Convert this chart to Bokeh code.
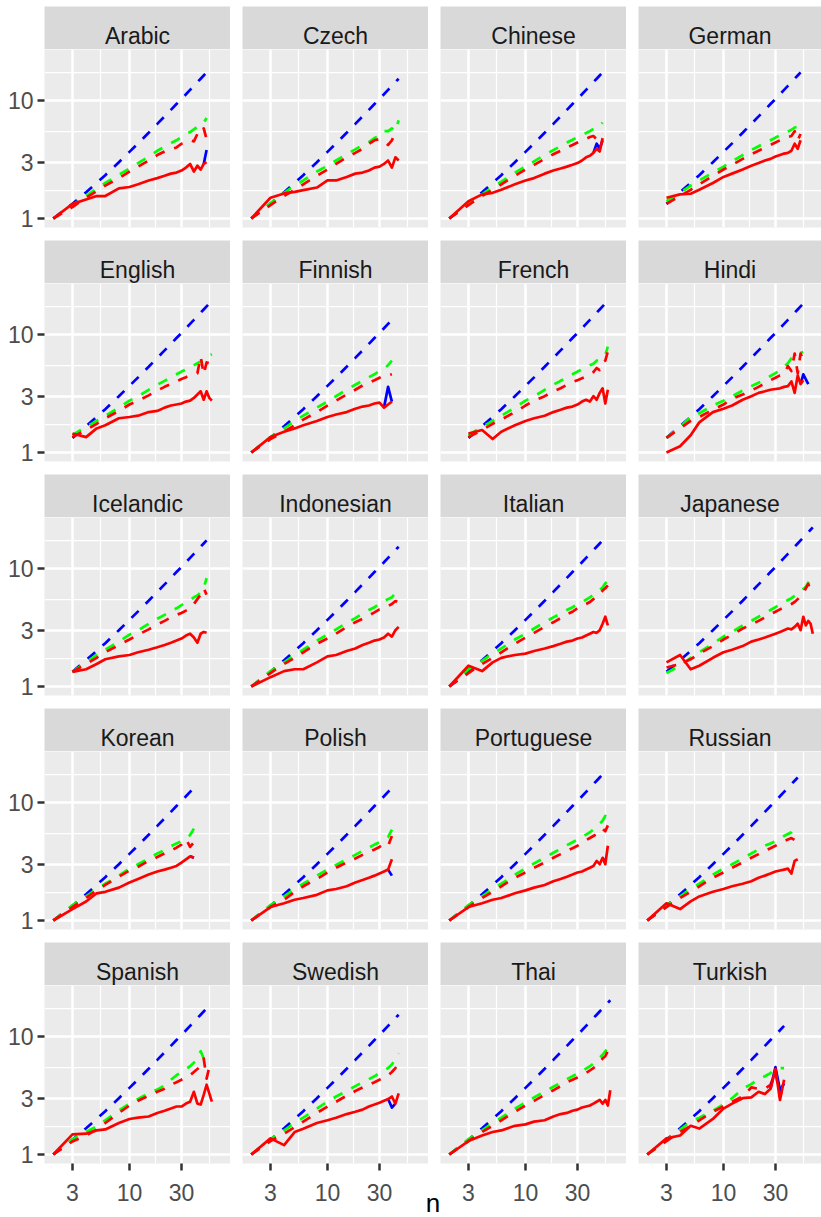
import numpy as np
from bokeh.plotting import figure
from bokeh.layouts import column, row
from bokeh.models import Range1d, FixedTicker, LogScale
from bokeh.core.properties import value
from bokeh.embed import file_html
from bokeh.resources import INLINE

LANGS = ["Arabic", "Czech", "Chinese", "German",
         "English", "Finnish", "French", "Hindi",
         "Icelandic", "Indonesian", "Italian", "Japanese",
         "Korean", "Polish", "Portuguese", "Russian",
         "Spanish", "Swedish", "Thai", "Turkish"]

N_GRID = [2, 3, 4, 5, 6, 8, 10, 12, 15, 18, 21, 24, 27, 30, 33, 36, 39, 42, 45,
          48, 51, 54, 57, 60, 63, 66]

START = {"Arabic": 2, "Czech": 2, "Chinese": 2, "German": 3, "English": 3,
         "Finnish": 2, "French": 3, "Hindi": 3, "Icelandic": 3, "Indonesian": 2,
         "Italian": 2, "Japanese": 3, "Korean": 2, "Polish": 2, "Portuguese": 2,
         "Russian": 2, "Spanish": 2, "Swedish": 2, "Thai": 2, "Turkish": 2}

# blue dashed reference, read at N_GRID
BLUE_DASH = [1.0, 1.33, 1.67, 2.0, 2.33, 3.0, 3.67, 4.33, 5.33, 6.33, 7.33, 8.33,
             9.33, 10.3, 11.3, 12.3, 13.3, 14.3, 15.3, 16.3, 17.3, 18.3, 19.3,
             20.3, 21.3, 22.3]

GREEN = {
    "Arabic": [1.0, 1.3, 1.55, 1.8, 2.0, 2.35, 2.65, 2.95, 3.35, 3.75, 4.05, 4.35, 4.6, 4.9, 5.2, 5.4, 5.7, 6.0, 6.2, 6.5, 7.1],
    "Czech": [1.0, 1.35, 1.65, 1.9, 2.1, 2.5, 2.8, 3.1, 3.5, 3.85, 4.2, 4.45, 4.8, 5.0, 5.5, 5.5, 5.8, 5.5, 6.8],
    "Chinese": [1.0, 1.35, 1.6, 1.85, 2.05, 2.45, 2.75, 3.05, 3.45, 3.8, 4.1, 4.4, 4.65, 4.9, 5.1, 5.3, 5.5, 5.75, 5.9, 6.1, 6.5],
    "German": [1.4, 1.65, 1.9, 2.1, 2.45, 2.75, 3.05, 3.45, 3.8, 4.1, 4.35, 4.6, 4.85, 5.05, 5.25, 5.45, 5.65, 5.9, 6.0, 6.1],
    "English": [1.4, 1.65, 1.85, 2.05, 2.4, 2.75, 3.0, 3.4, 3.75, 4.05, 4.35, 4.6, 4.85, 5.05, 5.3, 5.5, 5.7, 5.9, 6.1, 6.4, 6.6, 6.8],
    "Finnish": [1.0, 1.35, 1.6, 1.85, 2.05, 2.4, 2.7, 3.0, 3.4, 3.75, 4.05, 4.35, 4.6, 4.9, 5.1, 5.5, 6.0],
    "French": [1.4, 1.65, 1.85, 2.05, 2.4, 2.75, 3.0, 3.4, 3.75, 4.05, 4.3, 4.6, 4.85, 5.05, 5.3, 5.5, 5.65, 6.0, 6.2, 6.4, 6.7, 7.9],
    "Hindi": [1.33, 1.65, 2.0, 2.15, 2.5, 2.75, 3.0, 3.35, 3.65, 3.9, 4.15, 4.45, 4.7, 5.0, 5.35, 5.7, 6.3, 6.5, 6.9, 7.0, 7.1],
    "Icelandic": [1.33, 1.6, 1.85, 2.05, 2.4, 2.75, 3.0, 3.4, 3.75, 4.05, 4.35, 4.6, 4.9, 5.15, 5.4, 5.7, 5.9, 6.3, 6.8, 8.3],
    "Indonesian": [1.0, 1.35, 1.6, 1.85, 2.05, 2.45, 2.75, 3.05, 3.45, 3.8, 4.15, 4.45, 4.7, 5.0, 5.3, 5.5, 5.7, 6.2, 6.7],
    "Italian": [1.0, 1.4, 1.65, 1.9, 2.1, 2.5, 2.8, 3.1, 3.5, 3.85, 4.15, 4.45, 4.7, 4.95, 5.2, 5.45, 5.7, 6.0, 6.2, 6.6, 6.9, 7.5, 7.8],
    "Japanese": [1.3, 1.5, 1.75, 1.95, 2.3, 2.65, 2.9, 3.3, 3.6, 3.9, 4.2, 4.45, 4.7, 4.95, 5.2, 5.4, 5.6, 5.85, 6.1, 6.4, 6.7, 7.0, 7.6, 8.0, 8.6],
    "Korean": [1.0, 1.35, 1.6, 1.85, 2.05, 2.4, 2.75, 3.0, 3.35, 3.7, 3.95, 4.25, 4.5, 4.7, 5.0, 5.3, 6.0],
    "Polish": [1.0, 1.35, 1.6, 1.85, 2.05, 2.4, 2.7, 2.95, 3.3, 3.6, 3.9, 4.15, 4.4, 4.6, 4.85, 5.1, 5.9],
    "Portuguese": [1.0, 1.35, 1.6, 1.85, 2.05, 2.45, 2.75, 3.05, 3.4, 3.75, 4.05, 4.35, 4.6, 4.85, 5.1, 5.35, 5.6, 5.9, 6.2, 6.6, 7.0, 7.7, 7.4],
    "Russian": [1.0, 1.35, 1.6, 1.85, 2.05, 2.45, 2.75, 3.0, 3.35, 3.7, 4.0, 4.3, 4.5, 4.7, 4.95, 5.2, 5.4, 5.6, 6.0, 5.8],
    "Spanish": [1.0, 1.35, 1.55, 1.73, 1.95, 2.35, 2.7, 2.95, 3.3, 3.55, 3.85, 4.3, 4.7, 5.0, 5.3, 5.6, 6.0, 6.6, 7.5, 6.5, 6.4, 6.6, 6.8],
    "Swedish": [1.0, 1.35, 1.6, 1.85, 2.05, 2.45, 2.8, 3.1, 3.45, 3.8, 4.1, 4.35, 4.6, 4.9, 5.15, 5.4, 5.8, 6.4, 7.2],
    "Thai": [1.0, 1.35, 1.6, 1.85, 2.05, 2.45, 2.75, 3.05, 3.4, 3.75, 4.05, 4.35, 4.6, 4.85, 5.1, 5.35, 5.6, 5.9, 6.2, 6.6, 7.0, 7.5, 8.0, 9.0],
    "Turkish": [1.0, 1.33, 1.63, 1.9, 2.05, 2.35, 2.65, 3.0, 3.6, 3.95, 4.35, 4.6, 4.9, 5.3, 5.4, 5.4],
}

RED_DASH = {
    "Arabic": [1.0, 1.25, 1.5, 1.7, 1.9, 2.2, 2.5, 2.75, 3.1, 3.45, 3.7, 3.85, 4.0, 4.3, 4.4, 4.6, 4.5, 5.2, 5.1, 5.8, 4.7],
    "Czech": [1.0, 1.3, 1.55, 1.75, 1.95, 2.3, 2.6, 2.9, 3.3, 3.6, 3.9, 4.3, 4.6, 4.7, 4.5, 4.2, 4.6, 5.3, 5.3],
    "Chinese": [1.0, 1.3, 1.55, 1.75, 1.95, 2.3, 2.6, 2.85, 3.2, 3.5, 3.75, 4.0, 4.2, 4.4, 4.6, 4.75, 4.9, 5.0, 4.7, 5.2, 5.3],
    "German": [1.33, 1.55, 1.75, 1.95, 2.3, 2.6, 2.85, 3.2, 3.5, 3.75, 4.0, 4.2, 4.4, 4.6, 4.75, 4.9, 5.0, 5.5, 4.6, 5.2],
    "English": [1.35, 1.55, 1.75, 1.95, 2.25, 2.55, 2.75, 3.05, 3.35, 3.6, 3.8, 4.0, 4.2, 4.35, 4.5, 4.6, 4.7, 6.5, 4.6, 5.8, 5.7, 5.5],
    "Finnish": [1.0, 1.3, 1.5, 1.7, 1.9, 2.2, 2.5, 2.75, 3.1, 3.4, 3.7, 3.9, 4.1, 4.3, 4.5, 4.5, 4.6],
    "French": [1.35, 1.55, 1.75, 1.9, 2.2, 2.5, 2.75, 3.0, 3.3, 3.5, 3.75, 3.95, 4.1, 4.25, 4.4, 4.6, 4.8, 5.2, 5.0, 5.8, 6.0, 7.2],
    "Hindi": [1.33, 1.6, 1.85, 2.0, 2.3, 2.55, 2.85, 3.1, 3.35, 3.6, 3.85, 4.1, 4.3, 4.5, 4.6, 5.4, 4.9, 6.9, 4.7, 6.9, 6.0],
    "Icelandic": [1.33, 1.55, 1.75, 1.95, 2.25, 2.5, 2.75, 3.05, 3.35, 3.6, 3.85, 4.05, 4.2, 4.4, 4.6, 5.0, 5.5, 6.0, 6.8, 6.0],
    "Indonesian": [1.0, 1.3, 1.55, 1.75, 1.95, 2.3, 2.55, 2.8, 3.2, 3.5, 3.75, 4.0, 4.25, 4.5, 4.6, 4.8, 5.0, 5.3, 5.2],
    "Italian": [1.0, 1.3, 1.55, 1.75, 1.95, 2.3, 2.6, 2.85, 3.2, 3.5, 3.8, 4.1, 4.3, 4.6, 4.8, 5.0, 5.2, 5.5, 5.7, 6.0, 6.5, 6.8, 7.2],
    "Japanese": [1.45, 1.55, 1.7, 1.9, 2.2, 2.5, 2.75, 3.1, 3.35, 3.6, 3.85, 4.1, 4.3, 4.5, 4.7, 4.85, 5.0, 5.2, 5.5, 5.8, 6.2, 6.8, 7.4, 6.5, 6.9],
    "Korean": [1.0, 1.3, 1.55, 1.8, 2.0, 2.35, 2.65, 2.85, 3.2, 3.45, 3.7, 3.9, 4.15, 4.4, 4.9, 4.2, 4.6],
    "Polish": [1.0, 1.3, 1.5, 1.75, 1.95, 2.25, 2.55, 2.8, 3.1, 3.35, 3.6, 3.8, 4.0, 4.2, 4.45, 4.3, 5.2],
    "Portuguese": [1.0, 1.3, 1.55, 1.75, 1.95, 2.3, 2.55, 2.8, 3.1, 3.4, 3.65, 3.9, 4.1, 4.3, 4.5, 4.8, 5.0, 5.2, 5.4, 5.6, 6.0, 5.7, 6.4],
    "Russian": [1.0, 1.3, 1.55, 1.75, 1.95, 2.3, 2.55, 2.8, 3.1, 3.4, 3.65, 3.9, 4.1, 4.3, 4.5, 4.7, 4.85, 5.0, 4.8, 4.6],
    "Spanish": [1.0, 1.29, 1.45, 1.63, 1.85, 2.25, 2.6, 2.85, 3.15, 3.4, 3.6, 3.9, 4.1, 4.3, 4.5, 4.7, 5.0, 5.3, 5.6, 6.5, 4.4, 5.5, 5.8],
    "Swedish": [1.0, 1.3, 1.5, 1.7, 1.9, 2.25, 2.55, 2.8, 3.15, 3.45, 3.7, 3.9, 4.1, 4.3, 4.5, 4.7, 5.0, 5.4, 5.9],
    "Thai": [1.0, 1.3, 1.55, 1.75, 1.95, 2.3, 2.6, 2.85, 3.2, 3.5, 3.8, 4.1, 4.3, 4.5, 4.7, 4.9, 5.15, 5.4, 5.7, 6.0, 6.5, 6.8, 7.5, 6.8],
    "Turkish": [1.0, 1.3, 1.55, 1.75, 1.95, 2.3, 2.55, 2.8, 3.1, 3.7, 3.6, 3.6, 3.9, 5.0, 3.1, 4.0],
}

RED_SOLID = {
    "Arabic": [1.0, 1.33, 1.45, 1.55, 1.55, 1.8, 1.85, 1.95, 2.1, 2.2, 2.3, 2.4, 2.45, 2.55, 2.7, 2.9, 2.5, 2.8, 2.6, 2.9, 3.0],
    "Czech": [1.0, 1.5, 1.63, 1.68, 1.74, 1.83, 2.1, 2.1, 2.25, 2.4, 2.45, 2.55, 2.7, 2.75, 2.9, 3.1, 2.7, 3.3, 3.1],
    "Chinese": [1.0, 1.4, 1.6, 1.65, 1.75, 1.95, 2.1, 2.2, 2.4, 2.55, 2.65, 2.75, 2.85, 2.95, 3.1, 3.3, 3.4, 3.6, 3.9, 3.7, 4.8],
    "German": [1.5, 1.6, 1.62, 1.75, 2.0, 2.25, 2.4, 2.6, 2.8, 2.95, 3.1, 3.2, 3.35, 3.45, 3.55, 3.6, 3.75, 4.3, 3.9, 4.6],
    "English": [1.45, 1.35, 1.6, 1.7, 1.95, 2.0, 2.05, 2.2, 2.25, 2.4, 2.5, 2.55, 2.6, 2.7, 2.75, 2.9, 3.1, 3.3, 2.8, 3.3, 2.9, 2.75],
    "Finnish": [1.0, 1.35, 1.5, 1.6, 1.7, 1.85, 2.0, 2.1, 2.2, 2.35, 2.45, 2.5, 2.6, 2.65, 2.4, 2.55, 2.7],
    "French": [1.45, 1.55, 1.3, 1.5, 1.7, 1.85, 1.95, 2.05, 2.2, 2.3, 2.4, 2.45, 2.55, 2.7, 2.8, 2.7, 3.0, 2.8, 3.2, 3.5, 2.6, 3.4],
    "Hindi": [1.0, 1.13, 1.4, 1.8, 2.2, 2.35, 2.5, 2.8, 3.0, 3.2, 3.3, 3.4, 3.45, 3.5, 3.6, 3.65, 4.0, 3.2, 4.5, 3.8, 4.1],
    "Icelandic": [1.33, 1.4, 1.55, 1.7, 1.8, 1.85, 1.95, 2.05, 2.15, 2.25, 2.35, 2.45, 2.55, 2.7, 2.8, 2.6, 2.35, 2.8, 2.9, 2.85],
    "Indonesian": [1.0, 1.2, 1.35, 1.4, 1.4, 1.6, 1.8, 1.85, 2.0, 2.1, 2.25, 2.35, 2.45, 2.5, 2.6, 2.8, 2.65, 3.0, 3.2],
    "Italian": [1.0, 1.5, 1.35, 1.6, 1.75, 1.85, 1.9, 2.0, 2.1, 2.2, 2.3, 2.4, 2.45, 2.55, 2.6, 2.7, 2.8, 2.9, 2.85, 3.0, 3.4, 3.9, 3.3],
    "Japanese": [1.6, 1.85, 1.4, 1.5, 1.75, 1.95, 2.05, 2.2, 2.4, 2.5, 2.6, 2.7, 2.8, 2.9, 3.0, 3.1, 3.05, 3.2, 3.4, 3.0, 3.9, 3.3, 3.6, 3.4, 2.8],
    "Korean": [1.0, 1.25, 1.45, 1.7, 1.75, 1.9, 2.1, 2.25, 2.45, 2.6, 2.7, 2.8, 2.9, 3.1, 3.3, 3.5, 3.4],
    "Polish": [1.0, 1.3, 1.4, 1.5, 1.55, 1.65, 1.8, 1.85, 1.95, 2.1, 2.2, 2.3, 2.4, 2.5, 2.6, 2.7, 3.3],
    "Portuguese": [1.0, 1.3, 1.4, 1.5, 1.55, 1.7, 1.8, 1.9, 2.0, 2.15, 2.25, 2.35, 2.45, 2.55, 2.6, 2.7, 2.8, 2.9, 3.2, 3.0, 3.4, 3.0, 4.3],
    "Russian": [1.0, 1.4, 1.25, 1.45, 1.6, 1.75, 1.85, 1.95, 2.05, 2.15, 2.3, 2.4, 2.5, 2.6, 2.65, 2.7, 2.75, 2.5, 3.2, 3.3],
    "Spanish": [1.0, 1.48, 1.5, 1.6, 1.63, 1.85, 2.0, 2.05, 2.1, 2.25, 2.35, 2.45, 2.55, 2.55, 2.7, 2.8, 3.4, 2.7, 2.65, 3.2, 3.9, 3.3, 2.8],
    "Swedish": [1.0, 1.37, 1.2, 1.55, 1.65, 1.85, 1.95, 2.05, 2.2, 2.3, 2.4, 2.55, 2.65, 2.75, 2.85, 2.95, 3.1, 2.7, 3.3],
    "Thai": [1.0, 1.3, 1.45, 1.55, 1.6, 1.75, 1.8, 1.9, 1.95, 2.1, 2.2, 2.25, 2.35, 2.4, 2.5, 2.55, 2.6, 2.7, 2.8, 2.9, 2.7, 2.9, 2.6, 3.5],
    "Turkish": [1.0, 1.37, 1.45, 1.75, 1.66, 2.0, 2.45, 2.7, 3.0, 3.05, 3.4, 3.25, 3.6, 5.3, 2.9, 4.3],
}

# visible parts of the blue solid series (n, value)
BLUE_SOLID = {
    "Arabic": [(48, 2.9), (51, 3.8)],
    "Chinese": [(42, 3.6), (45, 4.3), (48, 3.9), (51, 4.6)],
    "Finnish": [(33, 2.4), (36, 3.6), (39, 2.7)],
    "Hindi": [(51, 3.8), (54, 4.6), (60, 3.8)],
    "Korean": [(36, 3.5), (39, 3.4)],
    "Polish": [(36, 2.7), (39, 2.4)],
    "Portuguese": [(51, 3.4), (54, 3.1)],
    "Swedish": [(36, 2.95), (39, 2.5), (42, 2.7)],
    "Turkish": [(27, 3.6), (30, 5.5), (33, 3.5), (36, 4.0)],
}

X_TICKS = [3, 10, 30]
X_TICK_LABELS = ["3", "10", "30"]
Y_TICKS = [1, 3, 10]
Y_TICK_LABELS = ["1", "3", "10"]
X_TITLE = "n"


def minor_breaks(ticks, lo, hi):
    b = list(np.log10(ticks))
    d = b[1] - b[0]
    if lo < b[0]:
        b = [b[0] - d] + b
    if hi > b[-1]:
        b = b + [b[-1] + d]
    mids = [(a + c) / 2 for a, c in zip(b[:-1], b[1:])]
    return [float(10 ** m) for m in mids]


# layout geometry (px)
PPD_X = 109.0          # pixels per decade on x
PPD_Y = 118.0          # pixels per decade on y
X_LO_LOG = 0.2205
Y_LO_LOG = -0.0763
FRAME_W = [186, 186, 186, 183]
LEFT_B = [44, 12, 12, 12]
FRAME_H = 178
GAP = 13
TOP_PAD = 6
STRIP_H = 43
LAST_B = 12        # border under the bottom row (holds the tick marks)
BOTTOM_H = 42      # band with tick labels and axis title

BLUE = "#0000FF"
GRN = "#00FF00"
RED = "#FF0000"
LW = 2.7
DASH = "10 10"
FONT = "Liberation Sans"
TXT = "23px"


def style_axis(ax, ticks, labels, standoff):
    ax.ticker = FixedTicker(ticks=ticks, minor_ticks=[])
    ax.major_label_overrides = {t: l for t, l in zip(ticks, labels)}
    ax.major_label_standoff = standoff
    ax.axis_line_color = None
    ax.major_tick_line_color = "#333333"
    ax.major_tick_line_width = 2.5
    ax.major_tick_in = 0
    ax.major_tick_out = 7
    ax.minor_tick_line_color = None
    ax.major_label_text_font = FONT
    ax.major_label_text_font_size = TXT
    ax.major_label_text_color = "#4D4D4D"


y_lo = 10 ** Y_LO_LOG
y_hi = 10 ** (Y_LO_LOG + FRAME_H / PPD_Y)
y_minor = minor_breaks(Y_TICKS, Y_LO_LOG, Y_LO_LOG + FRAME_H / PPD_Y)

rows = []
for r in range(5):
    strips = []
    panels = []
    for c in range(4):
        lang = LANGS[r * 4 + c]
        fw = FRAME_W[c]
        bl = LEFT_B[c]
        last = (r == 4)
        x_hi_log = X_LO_LOG + fw / PPD_X
        x_lo = 10 ** X_LO_LOG
        x_hi = 10 ** x_hi_log
        x_minor = minor_breaks(X_TICKS, X_LO_LOG, x_hi_log)

        # strip
        tp = TOP_PAD if r == 0 else 0
        s = figure(width=bl + fw, height=STRIP_H + tp, x_range=Range1d(0, 1),
                   y_range=Range1d(0, STRIP_H),
                   x_axis_location=None, y_axis_location=None, toolbar_location=None,
                   output_backend="svg", min_border_left=bl, min_border_right=0,
                   min_border_top=tp, min_border_bottom=0)
        s.grid.visible = False
        s.background_fill_color = "#D9D9D9"
        s.border_fill_color = "white"
        s.outline_line_color = None
        s.text(x=[0.5], y=[14], text=[lang], text_align="center", text_baseline="alphabetic",
               text_font=value(FONT), text_font_size=TXT, text_color="#1A1A1A")
        strips.append(s)

        bb = LAST_B if last else GAP
        p = figure(width=bl + fw, height=FRAME_H + bb, x_axis_type="log", y_axis_type="log",
                   x_range=Range1d(x_lo, x_hi), y_range=Range1d(y_lo, y_hi),
                   x_axis_location="below" if last else None,
                   y_axis_location="left" if c == 0 else None,
                   toolbar_location=None, output_backend="svg",
                   min_border_left=bl, min_border_right=0, min_border_top=0,
                   min_border_bottom=bb)
        p.background_fill_color = "#EBEBEB"
        p.border_fill_color = "white"
        p.outline_line_color = None
        for g, tk, mn in ((p.xgrid, X_TICKS, x_minor), (p.ygrid, Y_TICKS, y_minor)):
            g.ticker = FixedTicker(ticks=tk, minor_ticks=mn)
            g.grid_line_color = "white"
            g.grid_line_width = 2.5
            g.minor_grid_line_color = "white"
            g.minor_grid_line_width = 1.25

        if c == 0:
            style_axis(p.yaxis[0], Y_TICKS, Y_TICK_LABELS, 4)
        if last:
            # tick marks only; the tick labels are drawn in the band below
            ax = p.xaxis[0]
            style_axis(ax, X_TICKS, X_TICK_LABELS, 0)
            ax.major_label_text_font_size = "0px"
            ax.major_label_text_color = None

        i0 = N_GRID.index(START[lang])
        series = [GREEN[lang], RED_DASH[lang], RED_SOLID[lang]]
        nmax_len = max(len(v) for v in series)
        bd_n = N_GRID[i0:i0 + nmax_len]
        bd_y = BLUE_DASH[i0:i0 + nmax_len]
        p.line(bd_n, bd_y, line_color=BLUE, line_width=LW, line_dash=DASH)
        gv = GREEN[lang]
        p.line(N_GRID[i0:i0 + len(gv)], gv, line_color=GRN, line_width=LW, line_dash=DASH,
               line_join="round")
        rd = RED_DASH[lang]
        p.line(N_GRID[i0:i0 + len(rd)], rd, line_color=RED, line_width=LW, line_dash=DASH,
               line_join="round")
        if lang in BLUE_SOLID:
            bn = [a for a, _ in BLUE_SOLID[lang]]
            bv = [b for _, b in BLUE_SOLID[lang]]
            p.line(bn, bv, line_color=BLUE, line_width=LW, line_join="round")
        rs = RED_SOLID[lang]
        p.line(N_GRID[i0:i0 + len(rs)], rs, line_color=RED, line_width=LW, line_join="round")
        panels.append(p)
    rows.append(row(strips, spacing=0))
    rows.append(row(panels, spacing=0))

# bottom band: tick labels on each column's own log scale + axis title
total_w = sum(LEFT_B) + sum(FRAME_W)
bt = figure(width=total_w, height=BOTTOM_H, x_range=Range1d(0, total_w),
            y_range=Range1d(0, BOTTOM_H), x_axis_location=None, y_axis_location=None,
            toolbar_location=None, output_backend="svg", min_border=0)
bt.grid.visible = False
bt.outline_line_color = None
bt.background_fill_color = "white"
bt.border_fill_color = "white"
ranges = {}
scales = {}
col_left = 0
for c in range(4):
    col_left += LEFT_B[c]
    lo_log = X_LO_LOG - col_left / PPD_X
    hi_log = lo_log + total_w / PPD_X
    ranges["c%d" % c] = Range1d(10 ** lo_log, 10 ** hi_log)
    scales["c%d" % c] = LogScale()
    col_left += FRAME_W[c]
bt.extra_x_ranges = ranges
bt.extra_x_scales = scales
for c in range(4):
    k = len(X_TICKS)
    bt.text(x=X_TICKS, y=[BOTTOM_H - 17] * k, text=X_TICK_LABELS, x_range_name="c%d" % c,
            text_align="center", text_baseline="alphabetic", text_font=value(FONT),
            text_font_size=TXT, text_color="#4D4D4D")
bt.text(x=[(LEFT_B[0] + total_w) / 2], y=[15], text=[X_TITLE], text_align="center",
        text_baseline="middle", text_font=value(FONT), text_font_size="26px",
        text_color="#000000")
rows.append(bt)

layout = column(rows, spacing=0)
open("out.html", "w").write(file_html(layout, INLINE))
